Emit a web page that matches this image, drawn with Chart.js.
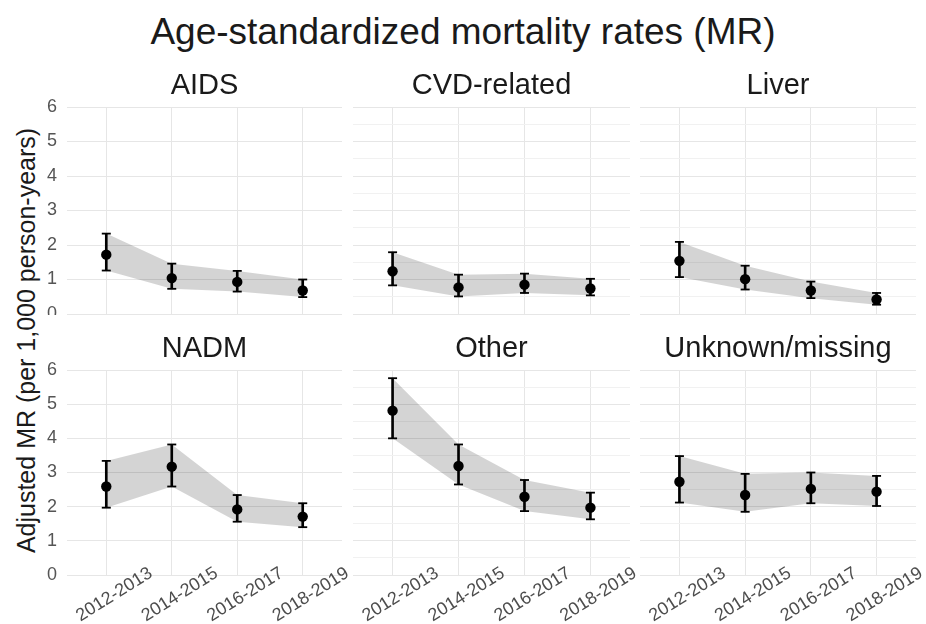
<!DOCTYPE html>
<html>
<head>
<meta charset="utf-8">
<script src="https://cdn.jsdelivr.net/npm/chart.js@4.4.1/dist/chart.umd.min.js"></script>
<style>
  html, body { margin: 0; padding: 0; background: #fff; overflow: hidden; }
  #page { position: relative; width: 926px; height: 624px; overflow: hidden;
          font-family: "Liberation Sans", Arial, sans-serif; background: #fff; }
  #title { position: absolute; left: 0; top: 13px; width: 926px; text-align: center;
           font-size: 37px; line-height: 37px; color: #1a1a1a; white-space: nowrap; }
  #ylab { position: absolute; left: -224px; top: 328px; width: 500px; height: 25px;
          line-height: 25px; text-align: center; font-size: 25px; color: #1a1a1a;
          transform: rotate(-90deg); white-space: nowrap; }
  canvas { position: absolute; }
</style>
</head>
<body>
<div id="page">
  <div id="title">Age-standardized mortality rates (MR)</div>
  <div id="ylab">Adjusted MR (per 1,000 person-years)</div>
</div>
<script>
// Calendar periods on the x axis and y tick values
const periods = ['2012-2013', '2014-2015', '2016-2017', '2018-2019'];
const yTickValues = [0, 1, 2, 3, 4, 5, 6];
const causes = ['AIDS', 'CVD-related', 'Liver', 'NADM', 'Other', 'Unknown/missing'];

// Adjusted mortality rate per 1,000 person-years, with 95% CI bounds
const aidsRate   = [1.72, 1.04, 0.93, 0.68];
const aidsLower  = [1.26, 0.73, 0.65, 0.49];
const aidsUpper  = [2.33, 1.46, 1.25, 1.00];

const cvdRate    = [1.24, 0.77, 0.85, 0.74];
const cvdLower   = [0.83, 0.51, 0.61, 0.54];
const cvdUpper   = [1.79, 1.14, 1.17, 1.02];

const liverRate  = [1.54, 1.01, 0.68, 0.42];
const liverLower = [1.07, 0.71, 0.46, 0.27];
const liverUpper = [2.09, 1.40, 0.94, 0.61];

const nadmRate   = [2.59, 3.17, 1.92, 1.71];
const nadmLower  = [1.97, 2.59, 1.56, 1.40];
const nadmUpper  = [3.34, 3.82, 2.34, 2.10];

const otherRate  = [4.81, 3.19, 2.29, 1.97];
const otherLower = [4.00, 2.65, 1.87, 1.63];
const otherUpper = [5.76, 3.82, 2.78, 2.41];

const unkRate    = [2.73, 2.34, 2.52, 2.44];
const unkLower   = [2.12, 1.85, 2.10, 2.02];
const unkUpper   = [3.48, 2.96, 3.00, 2.90];

const panels = [
  { name: causes[0], rate: aidsRate,  lower: aidsLower,  upper: aidsUpper },
  { name: causes[1], rate: cvdRate,   lower: cvdLower,   upper: cvdUpper },
  { name: causes[2], rate: liverRate, lower: liverLower, upper: liverUpper },
  { name: causes[3], rate: nadmRate,  lower: nadmLower,  upper: nadmUpper },
  { name: causes[4], rate: otherRate, lower: otherLower, upper: otherUpper },
  { name: causes[5], rate: unkRate,   lower: unkLower,   upper: unkUpper }
];

// Facet grid geometry (plot-area edges in page pixels)
const colLeft = [67, 353, 640];
const colRight = [342, 630, 916];
const rowTop = [107, 370];
const rowBottom = [314, 575];
const AXIS_W = 40;
const STRIP_SIZE = 29, STRIP_PT = 5, STRIP_PB = 7;
const STRIP_H = STRIP_SIZE + STRIP_PT + STRIP_PB;
const XAXIS_H = [1, 49];

const FONT = '"Liberation Sans", Arial, sans-serif';
const page = document.getElementById('page');

panels.forEach((p, k) => {
  const col = k % 3, row = Math.floor(k / 3);
  const plotW = colRight[col] - colLeft[col];
  const plotH = rowBottom[row] - rowTop[row];
  const cv = document.createElement('canvas');
  const w = plotW + 2 * AXIS_W;
  const h = STRIP_H + plotH + XAXIS_H[row];
  cv.width = w; cv.height = h;
  cv.style.left = (colLeft[col] - AXIS_W) + 'px';
  cv.style.top = (rowTop[row] - STRIP_H) + 'px';
  cv.style.width = w + 'px'; cv.style.height = h + 'px';
  page.appendChild(cv);

  const pts = arr => arr.map((v, i) => ({ x: i, y: v }));

  new Chart(cv, {
    type: 'scatter',
    data: {
      datasets: [
        { // point estimates
          type: 'scatter', data: pts(p.rate), order: 0,
          pointRadius: 5.2, pointHoverRadius: 5.2, backgroundColor: '#000', borderWidth: 0
        },
        { // error-bar caps
          type: 'scatter', data: pts(p.lower).concat(pts(p.upper)), order: 1,
          pointStyle: 'line', pointRadius: 4.5, pointHoverRadius: 4.5,
          borderColor: '#000', borderWidth: 1.8
        },
        { // error-bar stems
          type: 'bar', order: 2, grouped: false, barThickness: 2,
          data: p.lower.map((lo, i) => ({ x: i, y: [lo, p.upper[i]] })),
          backgroundColor: '#000', borderWidth: 0
        },
        { // confidence ribbon (upper edge, filled to the lower edge)
          type: 'line', data: pts(p.upper), order: 3, fill: '+1',
          backgroundColor: 'rgba(0,0,0,0.17)', borderColor: 'rgba(0,0,0,0)',
          borderWidth: 0, pointRadius: 0, pointHoverRadius: 0, tension: 0
        },
        {
          type: 'line', data: pts(p.lower), order: 4, fill: false,
          borderColor: 'rgba(0,0,0,0)', borderWidth: 0, pointRadius: 0,
          pointHoverRadius: 0, tension: 0
        }
      ]
    },
    options: {
      responsive: false,
      animation: false,
      devicePixelRatio: 1,
      events: [],
      layout: { padding: 0, autoPadding: false },
      plugins: {
        legend: { display: false },
        tooltip: { enabled: false },
        filler: { drawTime: 'beforeDatasetsDraw' },
        title: {
          display: true, text: p.name, color: '#1a1a1a',
          font: { family: FONT, size: STRIP_SIZE, weight: 'normal', lineHeight: 1 },
          padding: { top: STRIP_PT, bottom: STRIP_PB }
        }
      },
      scales: {
        x: {
          type: 'linear', min: -0.6, max: 3.6, offset: false,
          afterBuildTicks: s => { s.ticks = periods.map((_, i) => ({ value: i })); },
          afterFit: s => { s.height = XAXIS_H[row]; s.paddingLeft = 0; s.paddingRight = 0; },
          grid: { color: '#e6e6e6', lineWidth: 1, drawTicks: false, offset: false },
          border: { display: false },
          ticks: {
            display: row === 1, autoSkip: false,
            minRotation: 32, maxRotation: 32,
            mirror: true, labelOffset: 56, padding: -6,
            color: '#4d4d4d', font: { family: FONT, size: 18 },
            callback: v => periods[v]
          }
        },
        y: {
          min: yTickValues[0], max: yTickValues[yTickValues.length - 1],
          afterBuildTicks: s => {
            const t = [];
            yTickValues.forEach((v, i) => {
              t.push({ value: v });
              if (i < yTickValues.length - 1) t.push({ value: (v + yTickValues[i + 1]) / 2 });
            });
            s.ticks = t;
          },
          afterFit: s => { s.width = AXIS_W; s.paddingTop = 0; s.paddingBottom = 0; },
          grid: {
            drawTicks: false, offset: false,
            color: c => (c.tick && yTickValues.includes(c.tick.value)) ? '#e6e6e6' : '#f1f1f1',
            lineWidth: 1
          },
          border: { display: false },
          ticks: {
            display: col === 0, padding: 10,
            color: '#555555', font: { family: FONT, size: 18 },
            callback: v => yTickValues.includes(v) ? String(v) : ''
          }
        },
        yPad: {
          position: 'right', display: true,
          grid: { display: false }, border: { display: false },
          ticks: { display: false },
          afterFit: s => { s.width = AXIS_W; }
        }
      }
    }
  });
});
</script>
</body>
</html>
